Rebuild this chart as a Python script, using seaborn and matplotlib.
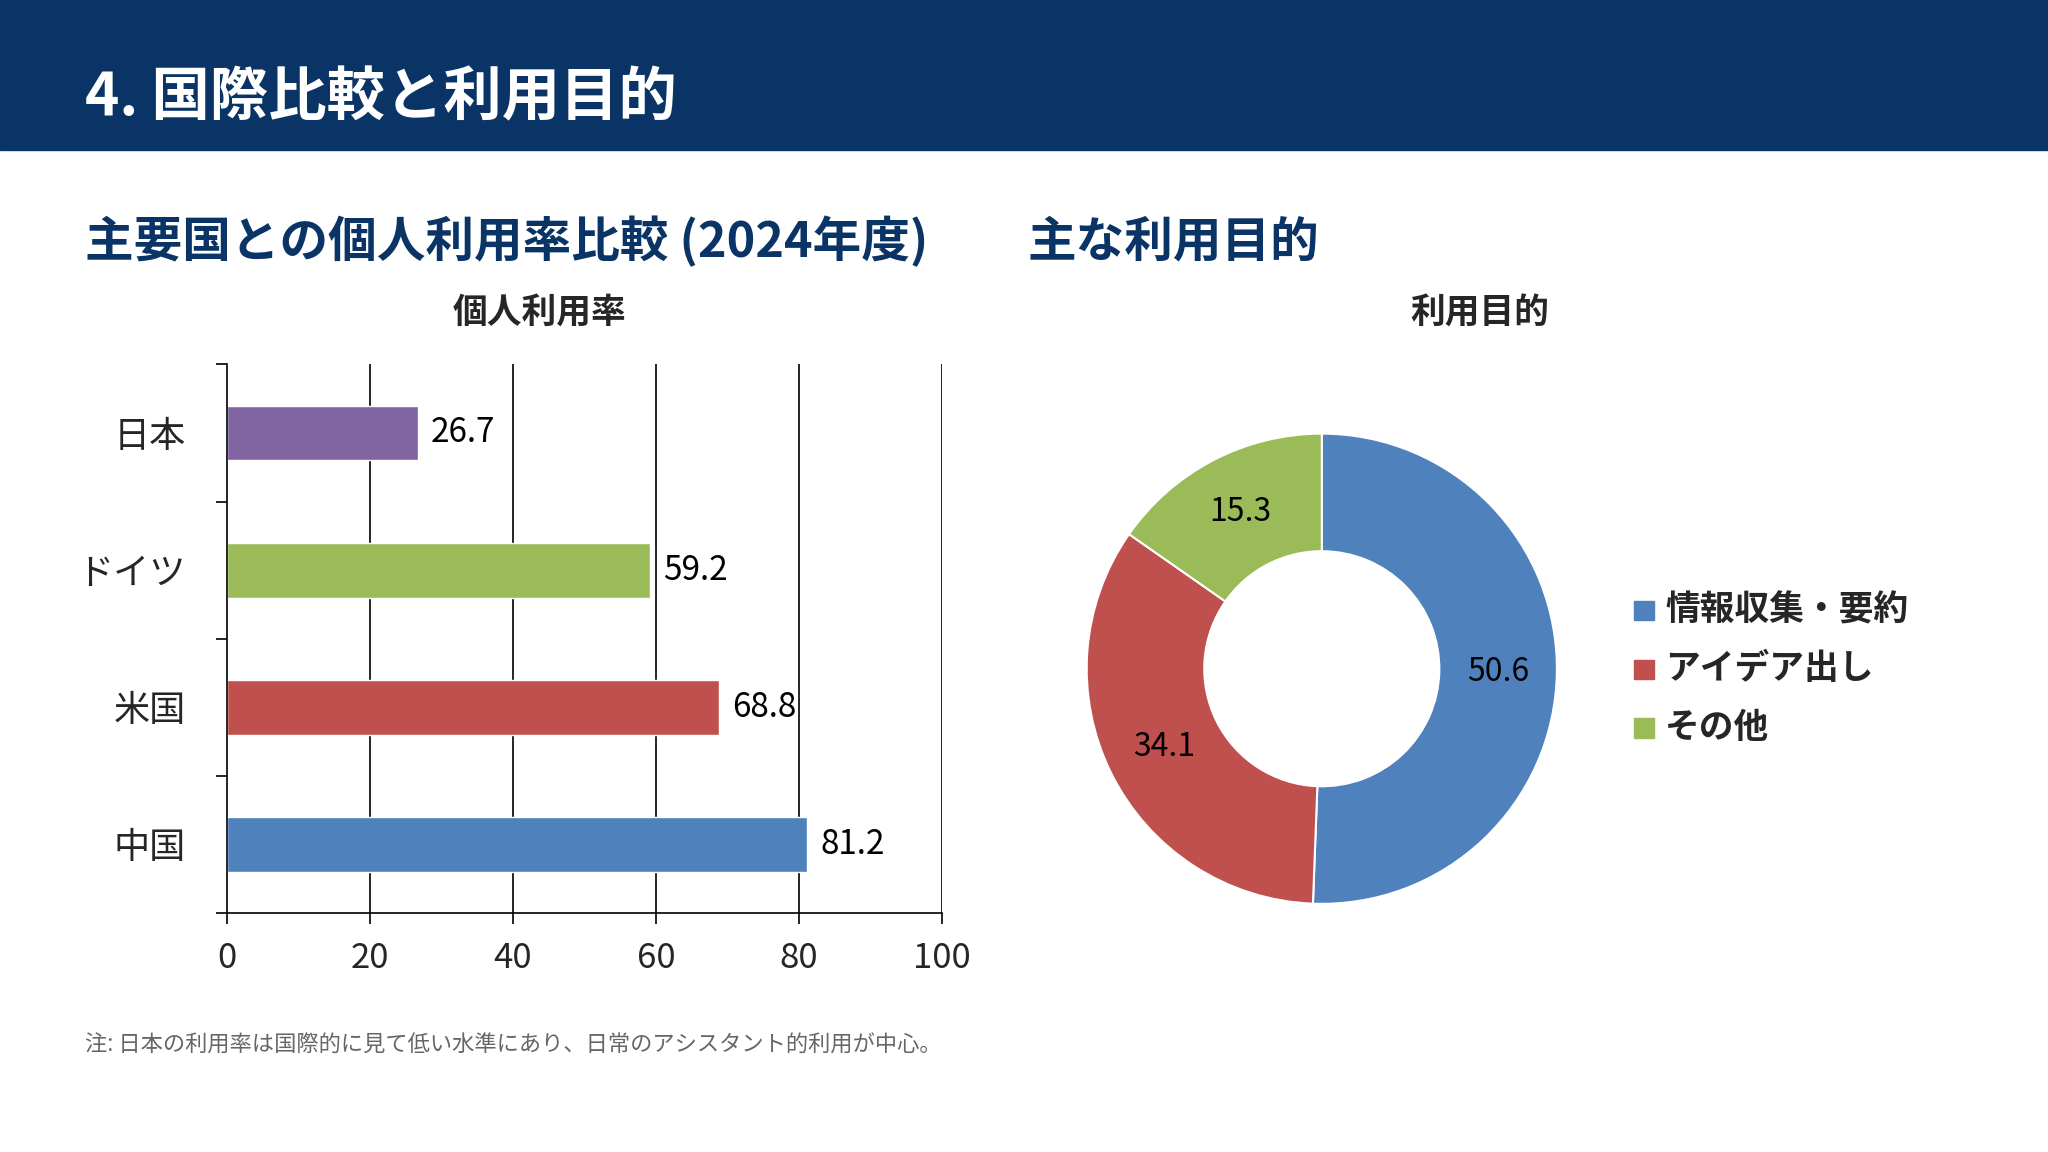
import matplotlib
matplotlib.use("Agg")
import matplotlib.pyplot as plt
import seaborn as sns
import pandas as pd
import numpy as np
from matplotlib.patches import Rectangle

countries = ["日本", "ドイツ", "米国", "中国"]
rates = [26.7, 59.2, 68.8, 81.2]
bar_colors = ["#8064A2", "#9BBB59", "#C0504D", "#4F81BD"]
purposes = ["情報収集・要約", "アイデア出し", "その他"]
shares = [50.6, 34.1, 15.3]
pie_colors = ["#4F81BD", "#C0504D", "#9BBB59"]
xticks = [0, 20, 40, 60, 80, 100]

sns.set_theme(style="white")
plt.rcParams['font.family'] = ['Noto Sans CJK JP', 'DejaVu Sans']
NAVY = "#0B3466"

fig = plt.figure(figsize=(20.48, 11.52), dpi=100)
W, H = 1568, 882
fig.add_artist(Rectangle((0, 1 - 115 / H), 1, 115 / H, transform=fig.transFigure, color=NAVY, zorder=0))
fig.text(65 / W, 1 - 75 / H, "4. 国際比較と利用目的", color="white", fontsize=42, fontweight="bold", va="center")
fig.text(65 / W, 1 - 185 / H, "主要国との個人利用率比較 (2024年度)", color=NAVY, fontsize=35, fontweight="bold", va="center")
fig.text(787 / W, 1 - 185 / H, "主な利用目的", color=NAVY, fontsize=35, fontweight="bold", va="center")
fig.text(65 / W, 1 - 800 / H, "注: 日本の利用率は国際的に見て低い水準にあり、日常のアシスタント的利用が中心。", color="#666666", fontsize=16, va="center")

# Bar chart
df = pd.DataFrame({"country": countries, "rate": rates})
ax = fig.add_axes([174 / W, 1 - 699 / H, (721 - 174) / W, (699 - 279) / H])
sns.barplot(data=df, y="country", x="rate", hue="country", palette=bar_colors, order=countries,
            width=0.4, legend=False, ax=ax, saturation=1)
ax.set_xlim(0, 100)
ax.set_ylim(3.5, -0.5)
ax.set_xticks(xticks)
ax.set_xlabel("")
ax.set_ylabel("")
for x in xticks[1:]:
    ax.axvline(x, color="black", lw=1.2, zorder=0)
for s in ["top", "right"]:
    ax.spines[s].set_visible(False)
for s in ["left", "bottom"]:
    ax.spines[s].set_color("black")
    ax.spines[s].set_linewidth(1.2)
ax.tick_params(axis="y", which="major", length=0, labelsize=26, pad=30)
ax.tick_params(axis="x", which="major", length=8, width=1.2, color="black", labelsize=25, pad=12, direction="out", bottom=True)
ax.set_yticks([-0.5, 0.5, 1.5, 2.5, 3.5], minor=True)
ax.tick_params(axis="y", which="minor", length=8, width=1.2, color="black", left=True)
for i, v in enumerate(rates):
    ax.text(v + 1.8, i, f"{v}", va="center", ha="left", fontsize=24, color="black")
fig.text(413 / W, 1 - 240 / H, "個人利用率", fontsize=25, fontweight="bold", ha="center", va="center")

# Donut
ph = 2 * 180 / H
pw = ph * H / W
pax = fig.add_axes([1012 / W - pw / 2, 1 - 512 / H - ph / 2, pw, ph])
wedges, _ = pax.pie(shares, colors=pie_colors, startangle=90, counterclock=False,
                    wedgeprops=dict(width=0.5, edgecolor="white", linewidth=1.5))
ang = 90.0
for v in shares:
    mid = ang - v / 100 * 360 / 2
    r = 0.75
    pax.text(r * np.cos(np.radians(mid)), r * np.sin(np.radians(mid)), f"{v}",
             ha="center", va="center", fontsize=23, color="black")
    ang -= v / 100 * 360
pax.set_xlim(-1, 1)
pax.set_ylim(-1, 1)
pax.set_aspect("equal")
fig.text(1133 / W, 1 - 240 / H, "利用目的", fontsize=25, fontweight="bold", ha="center", va="center")
for i, (lab, c) in enumerate(zip(purposes, pie_colors)):
    y = 1 - (467 + 45 * i) / H
    fig.add_artist(Rectangle((1251 / W, y - 8 / H), 15 / W, 15 / H, transform=fig.transFigure, color=c))
    fig.text(1275 / W, y, lab, fontsize=25, fontweight="bold", va="center")

fig.savefig("out.png", dpi=100)
